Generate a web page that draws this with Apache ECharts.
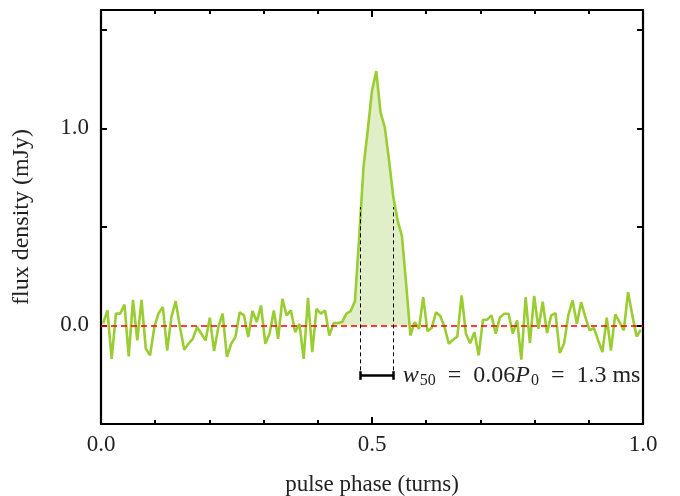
<!DOCTYPE html>
<html>
<head>
<meta charset="utf-8">
<script src="https://cdn.jsdelivr.net/npm/echarts@6/dist/echarts.min.js"></script>
<style>html,body{margin:0;padding:0;background:#fff}#c{width:680px;height:496px}</style>
</head>
<body>
<div id="c"></div>
<script>
// flux density per phase bin (mJy)
const flux = [
  0.01, 0.076, -0.17, 0.06, 0.06, 0.106, -0.157, 0.13, -0.076, 0.13,
  -0.118, -0.152, -0.008, 0.062, 0.093, -0.127, 0.042, 0.123, -0.008, -0.123,
  -0.093, -0.068, -0.008, -0.042, -0.076, 0.039, -0.13, -0.008, 0.06, -0.16,
  -0.093, -0.059, 0.067, 0.051, -0.059, 0.073, 0.017, 0.101, -0.093, -0.042,
  0.076, -0.068, 0.135, 0.051, 0.076, -0.034, 0.008, -0.169, 0.14, -0.135,
  0.084, 0.06, 0.076, -0.051, 0.012, 0.012, 0.017, 0.06, 0.073, 0.122,
  0.448, 0.80, 0.99, 1.19, 1.29, 1.08, 1.005, 0.836, 0.65, 0.532,
  0.456, 0.211, -0.051, 0.017, -0.017, 0.143, -0.03, -0.012, 0.067, 0.048,
  -0.008, -0.093, -0.073, -0.056, 0.152, -0.042, -0.09, -0.034, -0.152, 0.029,
  0.029, 0.051, -0.042, 0.042, 0.059, 0.059, -0.042, 0.025, -0.174, 0.143,
  -0.09, 0.15, -0.017, 0.12, -0.039, 0.051, 0.062, -0.14, -0.093, 0.051,
  0.127, 0.008, 0.118, 0.042, -0.025, -0.012, -0.076, -0.135, 0.039, -0.127,
  0.056, 0.017, -0.025, 0.169, 0.051, -0.056, -0.022
];
// on-pulse bins shaded (first and last index)
const onPulse = [54, 72];
// w50 window (phase) and annotation levels
const w50Window = [0.479, 0.540];
const w50Top = 0.60, w50Bottom = -0.228, w50Bar = -0.254;
const xTickLabels = ['0.0', '0.5', '1.0'];
const yTickLabels = ['0.0', '1.0'];

const N = flux.length;
const profile = flux.map((v, i) => [(i + 0.5) / N, v]);
const shaded = profile.slice(onPulse[0], onPulse[1] + 1);

const serif = 'Liberation Serif';
const chart = echarts.init(document.getElementById('c'));

const axisLine = { show: true, onZero: false, lineStyle: { color: '#000', width: 2.2 } };
const xBase = {
  type: 'value', min: 0, max: 1, interval: 0.5,
  axisLine: axisLine,
  axisTick: { show: true, inside: true, length: 7, lineStyle: { color: '#000', width: 2 } },
  minorTick: { show: true, splitNumber: 5, length: 4, lineStyle: { color: '#000', width: 2 } },
  splitLine: { show: false }, minorSplitLine: { show: false }
};
const yBase = {
  type: 'value', min: -0.5, max: 1.6, interval: 0.5,
  axisLine: axisLine,
  axisTick: { show: true, inside: true, length: 6, lineStyle: { color: '#000', width: 2 } },
  splitLine: { show: false }
};

chart.setOption({
  animation: false,
  backgroundColor: '#fff',
  grid: { left: 101, right: 37, top: 10, bottom: 72, outerBoundsMode: 'none', containLabel: false },
  xAxis: [
    Object.assign({}, xBase, {
      position: 'bottom',
      name: 'pulse phase (turns)', nameLocation: 'middle', nameGap: 49,
      nameTextStyle: { fontFamily: serif, fontSize: 23, color: '#222' },
      axisLabel: {
        fontFamily: serif, fontSize: 23, color: '#222', margin: 9,
        formatter: v => { const s = v.toFixed(1); return xTickLabels.includes(s) ? s : ''; }
      }
    }),
    Object.assign({}, xBase, { position: 'top', axisLabel: { show: false } })
  ],
  yAxis: [
    Object.assign({}, yBase, {
      position: 'left',
      name: 'flux density (mJy)', nameLocation: 'middle', nameGap: 67,
      nameTextStyle: { fontFamily: serif, fontSize: 24, color: '#222' },
      axisLabel: {
        fontFamily: serif, fontSize: 23, color: '#222', margin: 12,
        formatter: v => { const s = v.toFixed(1); return yTickLabels.includes(s) ? s : ''; }
      }
    }),
    Object.assign({}, yBase, { position: 'right', axisLabel: { show: false } })
  ],
  series: [
    {
      type: 'line', data: shaded, showSymbol: false, z: 1,
      lineStyle: { width: 0, opacity: 0 },
      areaStyle: { color: '#e0efc8', opacity: 1, origin: 0 }
    },
    {
      type: 'line', data: profile, showSymbol: false, z: 3,
      lineStyle: { color: '#9acd32', width: 2.6 }
    },
    {
      type: 'line', data: [], z: 5,
      markLine: {
        silent: true, symbol: ['none', 'none'], animation: false,
        label: { show: false },
        lineStyle: { color: '#ff0000', type: [6, 4], width: 1.6 },
        data: [{ yAxis: 0 }]
      }
    },
    {
      type: 'line', data: [], z: 6,
      markLine: {
        silent: true, symbol: ['none', 'none'], animation: false,
        label: { show: false },
        lineStyle: { color: '#000', type: [4, 3], width: 1 },
        data: [
          [{ coord: [w50Window[0], w50Bottom] }, { coord: [w50Window[0], w50Top] }],
          [{ coord: [w50Window[1], w50Bottom] }, { coord: [w50Window[1], w50Top] }]
        ]
      }
    },
    {
      type: 'line', data: [], z: 6,
      markLine: {
        silent: true, symbol: ['none', 'none'], animation: false,
        lineStyle: { color: '#000', type: 'solid', width: 2.5 },
        label: { show: false },
        data: [
          [{ coord: [w50Window[0], w50Bar] }, {
            coord: [w50Window[1], w50Bar],
            label: {
              show: true, position: 'end', distance: 9,
              fontFamily: serif, fontSize: 23, color: '#222',
              formatter: '{i|w}{s|50}{n|  =  0.06}{i|P}{s|0}{n|  =  1.3 }{n|ms}',
              rich: {
                i: { fontFamily: serif, fontStyle: 'italic', fontSize: 24, color: '#222' },
                n: { fontFamily: serif, fontSize: 24, color: '#222' },
                s: { fontFamily: serif, fontSize: 16, color: '#222', padding: [11, 0, 0, 1] }
              }
            }
          }],
          [{ coord: [w50Window[0], w50Bar - 0.022] }, { coord: [w50Window[0], w50Bar + 0.022] }],
          [{ coord: [w50Window[1], w50Bar - 0.022] }, { coord: [w50Window[1], w50Bar + 0.022] }]
        ]
      }
    }
  ]
});
</script>
</body>
</html>
